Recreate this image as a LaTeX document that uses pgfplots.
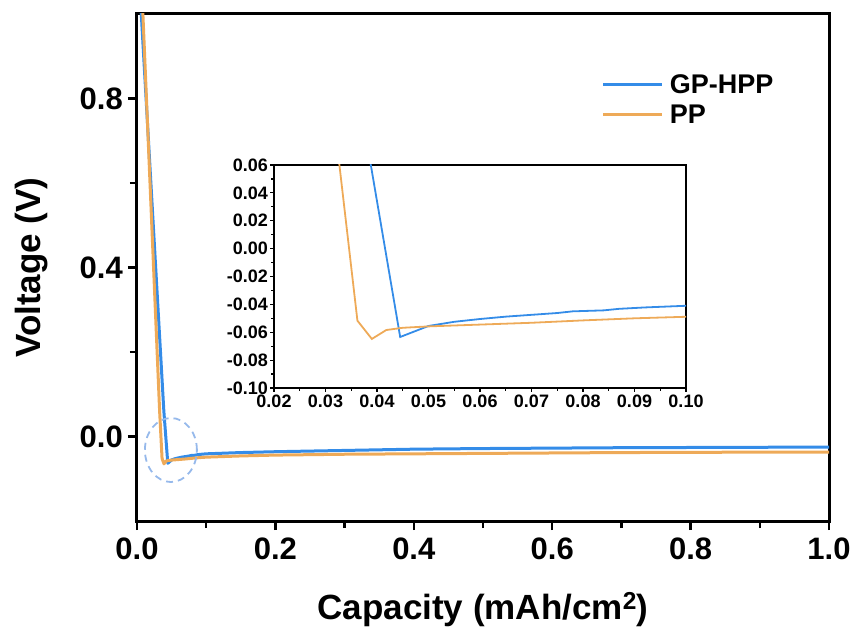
\documentclass[border=0pt]{standalone}
\usepackage{fontspec}
\setmainfont{Liberation Sans}
\usepackage{pgfplots}
\pgfplotsset{compat=1.18}
\usepackage{pgfplotstable}
\definecolor{cblue}{RGB}{52,140,232}
\definecolor{corange}{RGB}{238,170,88}
\definecolor{cring}{RGB}{150,185,235}

\pgfplotstableread{
x y
0.0055 1.02
0.0388 0.060
0.0445 -0.0634
0.050 -0.0555
0.055 -0.0525
0.060 -0.0505
0.065 -0.0488
0.070 -0.0475
0.075 -0.0462
0.078 -0.0450
0.084 -0.0443
0.087 -0.0432
0.092 -0.0422
0.100 -0.0410
0.150 -0.0380
0.200 -0.0360
0.300 -0.0330
0.400 -0.0300
0.500 -0.0285
0.600 -0.0275
0.700 -0.0265
0.800 -0.0260
0.900 -0.0255
1.000 -0.0250
}\gphpp

\pgfplotstableread{
x y
0.0080 1.02
0.0327 0.060
0.0362 -0.0517
0.0390 -0.0648
0.0418 -0.0584
0.045 -0.0568
0.050 -0.0558
0.060 -0.0545
0.070 -0.0532
0.080 -0.0515
0.090 -0.0500
0.100 -0.0489
0.150 -0.0460
0.200 -0.0440
0.300 -0.0420
0.400 -0.0410
0.500 -0.0400
0.600 -0.0390
0.700 -0.0380
0.800 -0.0375
0.900 -0.0370
1.000 -0.0370
}\pp

\begin{document}
\begin{tikzpicture}
\begin{axis}[
  at={(0pt,0pt)}, anchor=south west,
  scale only axis, width=692pt, height=507pt,
  xmin=0, xmax=1, ymin=-0.2, ymax=1.0,
  xtick={0,0.2,0.4,0.6,0.8,1.0},
  xticklabels={0.0,0.2,0.4,0.6,0.8,1.0},
  minor xtick={0.1,0.3,0.5,0.7,0.9},
  ytick={0,0.4,0.8},
  yticklabels={0.0,0.4,0.8},
  minor ytick={0.2,0.6},
  axis line style={line width=3pt},
  tick style={line width=2.5pt, black},
  major tick length=9pt, minor tick length=7pt,
  tick align=outside,
  xtick pos=bottom, ytick pos=left,
  ticklabel style={font=\fontsize{31}{31}\selectfont\bfseries},
  yticklabel style={inner xsep=5pt},
  xticklabel style={yshift=-4pt},
  xlabel={Capacity (mAh/cm\textsuperscript{2})},
  ylabel={Voltage (V)},
  label style={font=\fontsize{35}{35}\selectfont\bfseries},
  xlabel style={at={(rel axis cs:0.5,0)}, anchor=base, yshift=-98pt},
  ylabel style={at={(rel axis cs:0,0.5)}, anchor=center, yshift=105pt},
  legend style={draw=none, fill=none, at={(axis description cs:0.667,0.895)}, anchor=north west,
    font=\fontsize{27}{27}\selectfont\bfseries, row sep=0pt,
    nodes={inner ysep=5.5pt, inner xsep=6pt, text height=19pt, text depth=0pt}},
  legend cell align=left,
  legend image code/.code={\draw[line width=3.2pt] (0pt,0pt) -- (59pt,0pt);},
]
\addplot[cblue, line width=3pt, line join=round] table[x=x,y=y] {\gphpp};
\addlegendentry{GP-HPP}
\addplot[corange, line width=3pt, line join=round] table[x=x,y=y] {\pp};
\addlegendentry{PP}
\draw[cring, line width=1.8pt, dash pattern=on 7pt off 5pt] (axis cs:0.049,-0.032) ellipse [x radius=26pt, y radius=32pt];
\end{axis}

\begin{axis}[
  at={(137pt,133pt)}, anchor=south west,
  scale only axis, width=412pt, height=223pt,
  xmin=0.02, xmax=0.10, ymin=-0.10, ymax=0.06,
  xtick={0.02,0.03,0.04,0.05,0.06,0.07,0.08,0.09,0.10},
  xticklabels={0.02,0.03,0.04,0.05,0.06,0.07,0.08,0.09,0.10},
  ytick={-0.10,-0.08,-0.06,-0.04,-0.02,0,0.02,0.04,0.06},
  yticklabels={-0.10,-0.08,-0.06,-0.04,-0.02,0.00,0.02,0.04,0.06},
  minor x tick num=1, minor y tick num=1,
  axis line style={line width=1.5pt},
  tick style={line width=1.2pt, black},
  major tick length=4pt, minor tick length=3pt,
  tick align=outside,
  xtick pos=bottom, ytick pos=left,
  ticklabel style={font=\fontsize{18}{18}\selectfont\bfseries},
  yticklabel style={inner xsep=2pt},
  xticklabel style={inner ysep=3pt},
]
\addplot[cblue, line width=1.8pt] table[x=x,y=y] {\gphpp};
\addplot[corange, line width=1.8pt] table[x=x,y=y] {\pp};
\end{axis}
\pgfresetboundingbox
\path[use as bounding box] (-137pt,-114pt) rectangle (720pt,521pt);
\end{tikzpicture}
\end{document}
